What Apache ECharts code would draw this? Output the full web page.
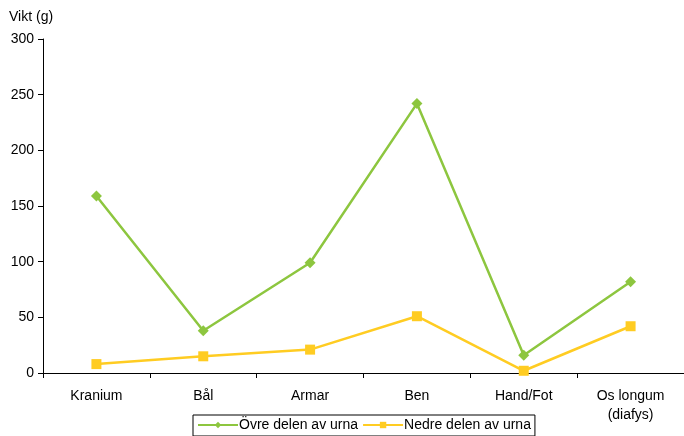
<!DOCTYPE html>
<html><head><meta charset="utf-8">
<script src="https://cdn.jsdelivr.net/npm/echarts@6/dist/echarts.min.js"></script>
<style>html,body{margin:0;padding:0;background:#fff}#c{width:684px;height:436px}</style>
</head><body><div id="c"></div>
<script>
const categories = ['Kranium', 'Bål', 'Armar', 'Ben', 'Hand/Fot', 'Os longum\n(diafys)'];
const ovreValues = [159, 38, 99, 242, 16, 82];
const nedreValues = [8, 15, 21, 51, 2, 42];
const seriesNames = ['Övre delen av urna', 'Nedre delen av urna'];
const yTicks = {min: 0, max: 300, interval: 50};

const chart = echarts.init(document.getElementById('c'));
const font = 'Liberation Sans, Arial, sans-serif';
chart.setOption({
  animation: false,
  textStyle: {fontFamily: font},
  title: {text: 'Vikt (g)', left: 9, top: 10, padding: 0, textStyle: {fontSize: 14, fontWeight: 'normal', color: '#000', fontFamily: font}},
  grid: {left: 43, top: 39, width: 646, height: 334},
  legend: {
    left: 193, top: 415, orient: 'horizontal',
    borderColor: '#000', borderWidth: 1, padding: [3, 4, 4, 4],
    itemWidth: 40, itemHeight: 8, itemGap: 4,
    textStyle: {fontSize: 14, color: '#000', fontFamily: font, padding: [0, 0, 0, -4]},
    data: seriesNames
  },
  xAxis: {
    type: 'category', data: categories, boundaryGap: true,
    axisLine: {lineStyle: {color: '#000', width: 1}},
    axisTick: {show: true, alignWithLabel: false, length: 5, lineStyle: {color: '#000'}},
    axisLabel: {color: '#000', fontSize: 14, margin: 14, lineHeight: 19, fontFamily: font, interval: 0}
  },
  yAxis: {
    type: 'value', min: yTicks.min, max: yTicks.max, interval: yTicks.interval,
    axisLine: {show: true, lineStyle: {color: '#000', width: 1}},
    axisTick: {show: true, length: 5, lineStyle: {color: '#000'}},
    splitLine: {show: false},
    axisLabel: {color: '#000', fontSize: 14, margin: 9, fontFamily: font}
  },
  series: [
    {name: seriesNames[0], type: 'line', data: ovreValues, symbol: 'diamond', symbolSize: 11,
     itemStyle: {color: '#8DC63F'}, lineStyle: {color: '#8DC63F', width: 2.5}},
    {name: seriesNames[1], type: 'line', data: nedreValues, symbol: 'rect', symbolSize: 10,
     itemStyle: {color: '#FFCC22'}, lineStyle: {color: '#FFCC22', width: 2.5}}
  ]
});
</script></body></html>
